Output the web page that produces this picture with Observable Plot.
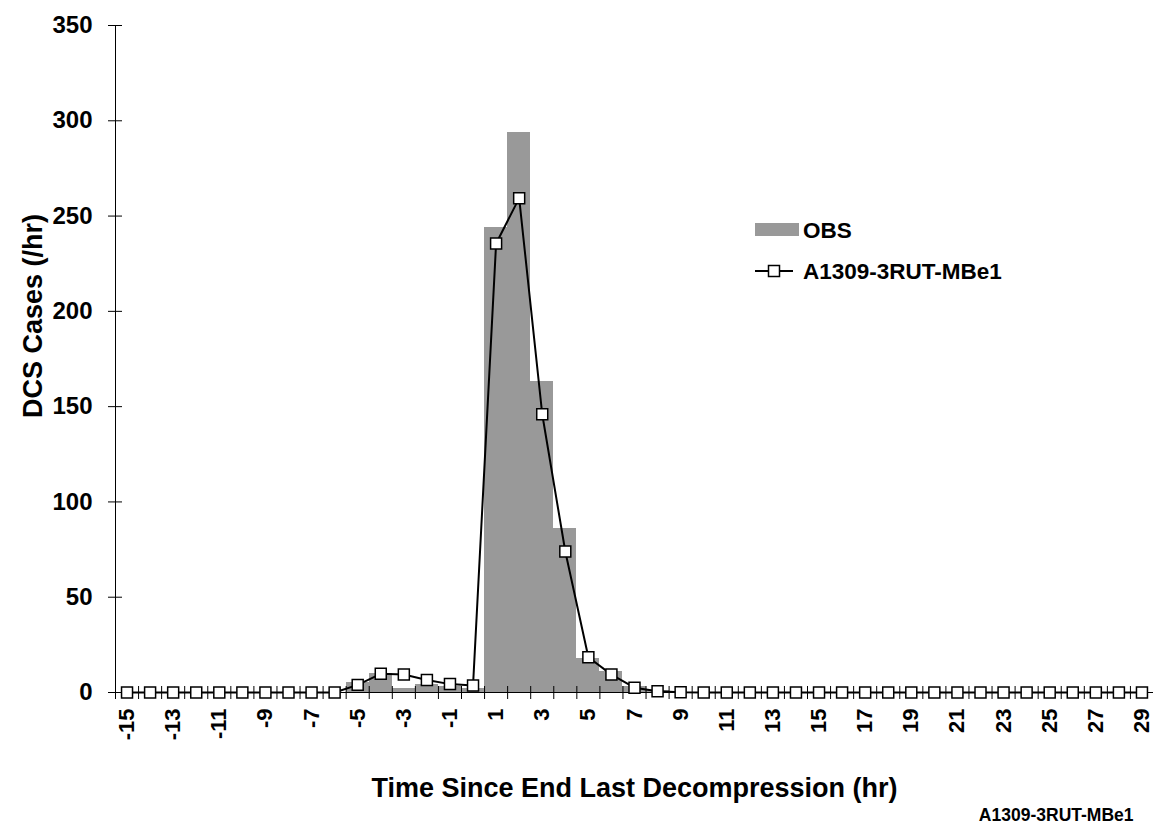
<!DOCTYPE html>
<html><head><meta charset="utf-8">
<script src="https://cdn.jsdelivr.net/npm/d3@7"></script>
<script src="https://cdn.jsdelivr.net/npm/@observablehq/plot@0.6"></script>
<style>
body{margin:0;background:#fff;}
#wrap{position:relative;width:1153px;height:827px;font-family:"Liberation Sans",Arial,sans-serif;font-weight:bold;}
#legend{position:absolute;left:0;top:0;pointer-events:none;}
</style></head><body><div id="wrap"></div>
<script>
const hours = [-15,-14,-13,-12,-11,-10,-9,-8,-7,-6,-5,-4,-3,-2,-1,0,1,2,3,4,5,6,7,8,9,10,11,12,13,14,15,16,17,18,19,20,21,22,23,24,25,26,27,28,29];
const obsCases = [0,0,0,0,0,0,0,0,0,0,5,10,2,4,3,2,244,294,163,86,18,11,3,1,0,0,0,0,0,0,0,0,0,0,0,0,0,0,0,0,0,0,0,0,0];
const modelCases = [0,0,0,0,0,0,0,0,0,0,4,9.8,9.4,6.6,4.4,3.7,235.6,259.4,146,74,18.5,9.4,2.5,0.6,0.1,0,0,0,0,0,0,0,0,0,0,0,0,0,0,0,0,0,0,0,0];
const yTicks = [0,50,100,150,200,250,300,350];
const xTickLabels = [-15,-13,-11,-9,-7,-5,-3,-1,1,3,5,7,9,11,13,15,17,19,21,23,25,27,29];
const seriesNames = ["OBS","A1309-3RUT-MBe1"];
const xTitle = "Time Since End Last Decompression (hr)";
const yTitle = "DCS Cases (/hr)";
const captionText = "A1309-3RUT-MBe1";

const rows = hours.map((t,i)=>({t, obs: obsCases[i], model: modelCases[i]}));
const xDomain = [hours[0]-0.5, hours[hours.length-1]+0.5];
const boundaryTicks = hours.map(h=>h-0.5).concat([hours[hours.length-1]+0.5]);
const plain = d => String(d);

const W = 1153, H = 827;
const chart = Plot.plot({
  width: W, height: H,
  marginLeft: 115, marginRight: 0, marginTop: 25, marginBottom: 135,
  style: {fontFamily: '"Liberation Sans", Arial, sans-serif', fontWeight: "bold", color: "black", background: "white"},
  x: {type: "linear", domain: xDomain},
  y: {domain: [0, 350]},
  marks: [
    Plot.rectY(rows.filter(d=>d.obs>0), {x1: d=>d.t-0.5, x2: d=>d.t+0.5, y: "obs", fill: "#999999", shapeRendering: "crispEdges"}),
    Plot.frame({anchor: "left", stroke: "black"}),
    Plot.frame({anchor: "bottom", stroke: "black"}),
    Plot.axisY({ticks: yTicks, tickSize: 7, tickPadding: 16, fontSize: 24, tickFormat: plain, label: null}),
    Plot.axisY({ticks: yTicks, tickSize: 7, dx: 7, fill: "none", label: null}),
    Plot.axisX({ticks: boundaryTicks, tickSize: 7, fill: "none", label: null}),
    Plot.axisX({ticks: boundaryTicks, tickSize: 6, dy: -6, fill: "none", label: null}),
    Plot.axisX({ticks: xTickLabels, tickSize: 0, tickPadding: 16, tickRotate: -90, fontSize: 22, tickFormat: plain, label: null}),
    Plot.line(rows, {x: "t", y: "model", stroke: "black", strokeWidth: 2}),
    Plot.dot(rows, {x: "t", y: "model", symbol: "square", r: 6.2, fill: "white", stroke: "black", strokeWidth: 1.5}),
    Plot.text([yTitle], {text: d=>d, frameAnchor: "left", rotate: -90, dx: -82, dy: -43, textAnchor: "middle", fontSize: 27, fontWeight: "bold", lineAnchor: "middle"}),
    Plot.text([xTitle], {text: d=>d, frameAnchor: "bottom", dy: 104, fontSize: 27, fontWeight: "bold", lineAnchor: "bottom"}),
    Plot.text([captionText], {text: d=>d, frameAnchor: "bottom-right", dx: -20, dy: 128, textAnchor: "end", fontSize: 17.5, fontWeight: "bold", lineAnchor: "bottom"})
  ]
});
const wrap = document.getElementById("wrap");
wrap.appendChild(chart);

// legend overlay
const lg = d3.select(wrap).append("svg").attr("id","legend").attr("width",W).attr("height",H)
  .style("font-family",'"Liberation Sans", Arial, sans-serif').style("font-weight","bold");
lg.append("rect").attr("x",755).attr("y",223).attr("width",44).attr("height",13).attr("fill","#999999");
lg.append("text").attr("x",803).attr("y",230).attr("dy","0.35em").attr("font-size",22.5).text(seriesNames[0]);
lg.append("line").attr("x1",755).attr("x2",793).attr("y1",271).attr("y2",271).attr("stroke","black").attr("stroke-width",2);
lg.append("rect").attr("x",768.5).attr("y",265.5).attr("width",11).attr("height",11).attr("fill","white").attr("stroke","black").attr("stroke-width",1.5);
lg.append("text").attr("x",803).attr("y",271).attr("dy","0.35em").attr("font-size",22.5).text(seriesNames[1]);
</script></body></html>
